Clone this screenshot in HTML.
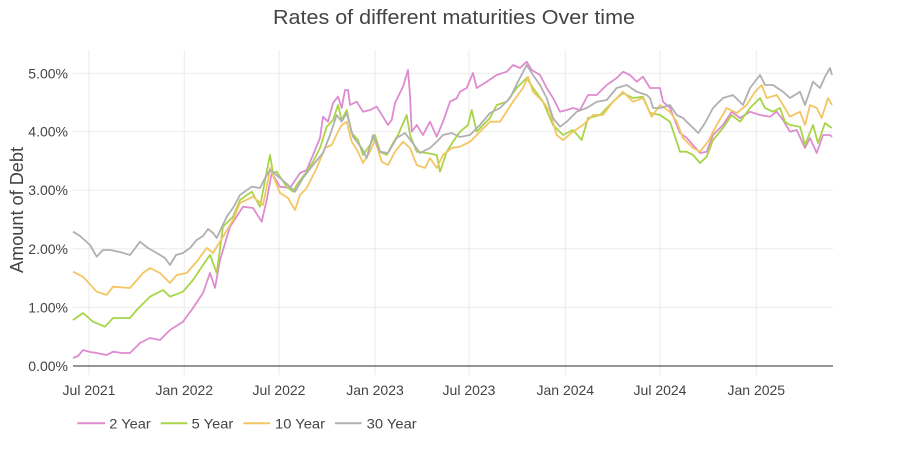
<!DOCTYPE html>
<html>
<head>
<meta charset="utf-8">
<style>
  html,body{margin:0;padding:0;background:#fff;}
  svg{display:block;}
  text{font-family:"Liberation Sans","DejaVu Sans",sans-serif;fill:#444;}
</style>
</head>
<body>
<svg width="900" height="450" viewBox="0 0 900 450" xmlns="http://www.w3.org/2000/svg">
  <rect width="900" height="450" fill="#fff"/>
  <!-- title -->
  <text x="273" y="24" font-size="20" textLength="362" lengthAdjust="spacingAndGlyphs">Rates of different maturities Over time</text>

  <!-- grid -->
  <g stroke="#ebebeb" stroke-width="1" fill="none">
    <line x1="73" y1="73.3" x2="833" y2="73.3"/>
    <line x1="73" y1="131.7" x2="833" y2="131.7"/>
    <line x1="73" y1="190.2" x2="833" y2="190.2"/>
    <line x1="73" y1="248.8" x2="833" y2="248.8"/>
    <line x1="73" y1="307.4" x2="833" y2="307.4"/>
    <line x1="89" y1="50" x2="89" y2="375"/>
    <line x1="184.3" y1="50" x2="184.3" y2="375"/>
    <line x1="279" y1="50" x2="279" y2="375"/>
    <line x1="375" y1="50" x2="375" y2="375"/>
    <line x1="469" y1="50" x2="469" y2="375"/>
    <line x1="565.3" y1="50" x2="565.3" y2="375"/>
    <line x1="660" y1="50" x2="660" y2="375"/>
    <line x1="756.3" y1="50" x2="756.3" y2="375"/>
  </g>
  <line x1="73" y1="366" x2="833" y2="366" stroke="#555" stroke-width="1.3"/>

  <!-- y tick labels -->
  <g font-size="14" text-anchor="end">
    <text x="68" y="78.3">5.00%</text>
    <text x="68" y="136.7">4.00%</text>
    <text x="68" y="195.2">3.00%</text>
    <text x="68" y="253.8">2.00%</text>
    <text x="68" y="312.4">1.00%</text>
    <text x="68" y="371">0.00%</text>
  </g>
  <!-- y axis title -->
  <text transform="translate(23,210) rotate(-90)" font-size="18" text-anchor="middle" textLength="126" lengthAdjust="spacingAndGlyphs">Amount of Debt</text>

  <!-- x tick labels -->
  <g font-size="14" text-anchor="middle">
    <text x="89" y="395">Jul 2021</text>
    <text x="184.3" y="395">Jan 2022</text>
    <text x="279" y="395">Jul 2022</text>
    <text x="375" y="395">Jan 2023</text>
    <text x="469" y="395">Jul 2023</text>
    <text x="565.3" y="395">Jan 2024</text>
    <text x="660" y="395">Jul 2024</text>
    <text x="756.3" y="395">Jan 2025</text>
  </g>

  <!-- series -->
  <g fill="none" stroke-width="1.8" stroke-linejoin="round">
    <polyline stroke="#de8ccf" points="73,358 78,356 83,350 90,352 96.7,353 106.7,355 113,351.7 122,353 130,353 140,343 150,338 160,340 170,330 183,321.7 193,308 203,293 210,273 215,288 220,260 230,226.7 243,206.7 253,208 261.7,221.7 266.7,200 271.7,173 280,186.7 290,188 296.7,178 300,173 306.7,170 313,155 320,138 323,116.7 328,121.7 333,103 338,96.7 341.7,108 345,90 348,90 350,105 356.7,101.7 363,111.7 370,110 376.7,106.7 383,116.7 388,125 391.7,120 395,103 403,86.7 408,70 410,95 411.7,131.7 416.7,125 423,135 430,121.7 436.7,136.7 443,121.7 450,101.7 456.7,98.3 460,91.7 466.7,88 473,73 476.7,88 486.7,81.7 496.7,75 506.7,71.7 513,65 520,68 526.7,61.7 531.7,70 540,75 546.7,88 553,98 560,111.7 566.7,110 573,108 580,110 588,95 596.7,95 606.7,85 616.7,78 623,71.7 630,75 636.7,81.7 643,76.7 650,88 660,88 663,101.7 670,108 676.7,125 680,133 686.7,138 693,145 700,153 706.7,151.7 713,135 723,125 731.7,111.7 740,118 750,111.7 760,115 770,116.7 776.7,111.7 783,120 790,131.7 796.7,130 805,148 810,138 816.7,153 823,135 830,135 832,137"/>
    <polyline stroke="#a8d546" points="73,320 83,313 93,321.7 105,326.7 113,318 130,318 136.7,310 150,296.7 163,290 170,296.7 183,291.7 193,280 203,265 210,255 216.7,273 223,226.7 233,216.7 240,200 251.7,191.7 260,206.7 268,165 270,155 273,173 276.7,171.7 286.7,186.7 293,191.7 298,183 306.7,171.7 313,161.7 320,148 326.7,126.7 333,120 338,105 341.7,120 346.7,110 351.7,133 358,140 363,155 370,145 375,135 380,151.7 386.7,155 393,143 398,135 406.7,115 410,135 416.7,151.7 426.7,153 436.7,155 440,171.7 446.7,151.7 453,141.7 460,131.7 468,125 471.7,110 476.7,131.7 490,118 496.7,105 506.7,101.7 516.7,88 526.7,78 533,88 543,101.7 553,125 563,135 573,130 581.7,140 588,118 600,115 613,101.7 623,93 633,98 643,96.7 650,113 660,115 670,121.7 676.7,141.7 680,151.7 686.7,151.7 693,155 700,163 706.7,156.7 713,140 723,128 731.7,115 740,121.7 750,108 760,98 765,108 773,111.7 780,108 785,121.7 790,125 800,126.7 805,145 813,125 818,143 825,123 831.7,128"/>
    <polyline stroke="#f3c663" points="73,271.7 83,276.7 96.7,291.7 106.7,295 113,286.7 130,288 143,273 150,268 160,273 170,283 176.7,275 186.7,273 196.7,261.7 206.7,248 213,253 223,236.7 233,220 240,203 253,196.7 263,205 268,180 270,168 280,193 288,198 295,210 300,195 306.7,188 316.7,168 325,148 331.7,145 338,131.7 341.7,125 346.7,121.7 351.7,141.7 358,151.7 363,163 370,151.7 375,140 381.7,161.7 388,165 395,151.7 403,141.7 410,148 416.7,165 425,168 430,158 436.7,168 443,155 451.7,148 460,146.7 470,141.7 480,131.7 490,121.7 500,121.7 513,101.7 523,88 528,76.7 533,91.7 543,101.7 550,111.7 556.7,135 563,140 573,131.7 583,125 593,115 603,115 613,101.7 623,91.7 633,101.7 643,98 651.7,116.7 660,105 670,111.7 676.7,121.7 683,138 693,148 700,151.7 708,141.7 716.7,125 726.7,108 736.7,113 746.7,105 755,91.7 761.7,85 766.7,98 776.7,95 783,105 790,116.7 800,111.7 805,125 810,105 816.7,108 821.7,118 828,98 832,105"/>
    <polyline stroke="#b0b0b0" points="73,231.7 80,236 90,245 96.7,256.7 103,250 110,250 120,252 130,255 140,241.7 148,248 156.7,253 165,258 170,265 176,255 183,253 190,248 196.7,240 203,236 208,229 213,233 216.7,238 226.7,216.7 233,208 240,195 251.7,186.7 260,188 265,178 270,170 280,178 290,186.7 295,191.7 303,178 313,165 323,153 330,135 336.7,115 341.7,121.7 346.7,113 353,136.7 361.7,148 366.7,158 373,135 380,151.7 388,153 396.7,138 405,133 411.7,141.7 420,153 430,148 436.7,141.7 443,135 451.7,133 460,137 470,135 480,125 490,113 500,108 510,98 518,81.7 526.7,65 533,75 540,85 546.7,98 553,118 560,126.7 566.7,121.7 576.7,111.7 586.7,108 596.7,101.7 606.7,100 616.7,88 626.7,85 636.7,91.7 646.7,95 650,98 653,108 660,108 670,105 676.7,115 683,118 690,125 698.3,133 705,123 713,108 723,98 733,95 743,105 750,88 760,75 765,85 773,85 783,91.7 790,98 800,91.7 805,105 813,81.7 820,88 825,76.7 830,68 832,75"/>
  </g>

  <!-- legend -->
  <g stroke-width="2">
    <line x1="77.3" y1="423.3" x2="105" y2="423.3" stroke="#de8ccf"/>
    <line x1="160.7" y1="423.3" x2="187.3" y2="423.3" stroke="#a8d546"/>
    <line x1="243.3" y1="423.3" x2="270" y2="423.3" stroke="#f3c663"/>
    <line x1="335" y1="423.3" x2="361.7" y2="423.3" stroke="#b0b0b0"/>
  </g>
  <g font-size="14">
    <text x="109.3" y="428.7" textLength="41.4" lengthAdjust="spacingAndGlyphs">2 Year</text>
    <text x="191.7" y="428.7" textLength="41.6" lengthAdjust="spacingAndGlyphs">5 Year</text>
    <text x="275" y="428.7" textLength="50" lengthAdjust="spacingAndGlyphs">10 Year</text>
    <text x="366.7" y="428.7" textLength="50" lengthAdjust="spacingAndGlyphs">30 Year</text>
  </g>
</svg>
</body>
</html>
